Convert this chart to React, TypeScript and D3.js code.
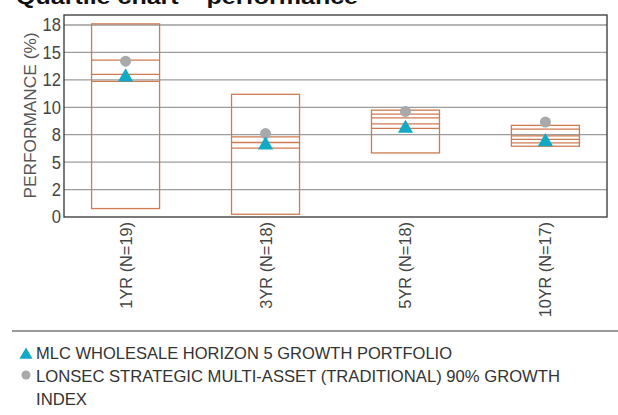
import React, { useEffect, useRef } from 'react';
import * as d3 from 'd3';

// periods on the x axis
const periods = ['1YR (N=19)', '3YR (N=18)', '5YR (N=18)', '10YR (N=17)'];

// box outline (top / bottom) and the inner quartile lines, in %
const boxHigh = [17.6, 11.18, 9.74, 8.35];
const boxLow = [0.77, 0.25, 5.84, 6.45];
const innerLines = [
  [14.3, 13.0, 12.36],
  [7.3, 6.79, 6.27],
  [9.38, 9.04, 8.49, 8.07],
  [8.0, 7.4, 7.07, 6.76],
];

// markers
const portfolio = [12.76, 6.55, 8.07, 6.85];
const benchmark = [14.2, 7.6, 9.62, 8.65];

const yTicks = [0, 2.5, 5, 7.5, 10, 12.5, 15, 17.5];
const yTickLabels = ['0', '2', '5', '8', '10', '12', '15', '18'];

const legendLabels = [
  'MLC WHOLESALE HORIZON 5 GROWTH PORTFOLIO',
  'LONSEC STRATEGIC MULTI-ASSET (TRADITIONAL) 90% GROWTH',
  'INDEX',
];
// measured widths of the legend lines in the original (condensed face)
const legendWidths = [416, 524, 51];

// the original uses a condensed face; squeeze a plain sans to roughly the same widths
const narrow = '"Liberation Sans Narrow", "Liberation Sans", Arial, sans-serif';
const orange = '#cf7a50';
const teal = '#10a9c6';
const grey = '#a7a9ab';

// width of a text in the condensed font, about 0.5em per glyph
function squeeze(s: string, size: number, k = 0.52) {
  return s.length * size * k;
}

export default function App() {
  const ref = useRef<SVGSVGElement | null>(null);

  useEffect(() => {
    const svg = d3.select(ref.current);
    svg.selectAll('*').remove();

    const margin = { top: 15, right: 11, bottom: 198, left: 64 };
    const W = 618, H = 415;
    const x0 = margin.left, x1 = W - margin.right;
    const y0 = H - margin.bottom, y1 = margin.top;

    const x = d3.scalePoint<string>().domain(periods).range([x0, x1]).padding(0.44);
    const y = d3.scaleLinear().domain([0, 18.41]).range([y0, y1]);
    const boxW = 68;

    // title, mostly cut off by the top edge
    svg.append('text')
      .attr('x', 16)
      .attr('y', 4)
      .attr('textLength', 342)
      .attr('lengthAdjust', 'spacingAndGlyphs')
      .style('font-family', '"Liberation Sans", Arial, sans-serif')
      .style('font-weight', 'bold')
      .style('font-size', '21px')
      .attr('fill', '#111')
      .text('Quartile chart \u2013 performance');

    // grid
    svg.append('g')
      .selectAll('line')
      .data(yTicks.slice(1))
      .join('line')
      .attr('x1', x0).attr('x2', x1)
      .attr('y1', d => y(d)).attr('y2', d => y(d))
      .attr('stroke', '#9c9c9c')
      .attr('stroke-width', 1.3);

    // y tick labels
    svg.append('g')
      .selectAll('text')
      .data(yTicks)
      .join('text')
      .attr('x', x0 - 3)
      .attr('y', d => y(d))
      .attr('dy', '0.36em')
      .attr('text-anchor', 'end')
      .attr('textLength', (d, i) => yTickLabels[i].length * 9.2)
      .attr('lengthAdjust', 'spacingAndGlyphs')
      .style('font-family', narrow)
      .style('font-size', '18px')
      .attr('fill', '#444')
      .text((d, i) => yTickLabels[i]);

    // y axis title
    svg.append('text')
      .attr('transform', 'translate(36,' + ((y0 + y1) / 2 - 0.5) + ') rotate(-90)')
      .attr('text-anchor', 'middle')
      .attr('textLength', 166)
      .attr('lengthAdjust', 'spacingAndGlyphs')
      .style('font-family', narrow)
      .style('font-size', '17px')
      .attr('fill', '#555')
      .text('PERFORMANCE (%)');

    // boxes
    const boxes = svg.append('g')
      .selectAll('g')
      .data(periods)
      .join('g');

    boxes.append('rect')
      .attr('x', d => x(d)! - boxW / 2)
      .attr('width', boxW)
      .attr('y', (d, i) => y(boxHigh[i]))
      .attr('height', (d, i) => y(boxLow[i]) - y(boxHigh[i]))
      .attr('fill', 'none')
      .attr('stroke', orange)
      .attr('stroke-width', 1.3);

    boxes.selectAll('line')
      .data((d, i) => innerLines[i].map(v => ({ p: d, v })))
      .join('line')
      .attr('x1', d => x(d.p)! - boxW / 2)
      .attr('x2', d => x(d.p)! + boxW / 2)
      .attr('y1', d => y(d.v))
      .attr('y2', d => y(d.v))
      .attr('stroke', orange)
      .attr('stroke-width', 1.3);

    // frame
    svg.append('rect')
      .attr('x', x0).attr('y', y1)
      .attr('width', x1 - x0).attr('height', y0 - y1)
      .attr('fill', 'none')
      .attr('stroke', '#333')
      .attr('stroke-width', 1.3);

    // benchmark circles
    svg.append('g')
      .selectAll('circle')
      .data(periods)
      .join('circle')
      .attr('cx', d => x(d)!)
      .attr('cy', (d, i) => y(benchmark[i]))
      .attr('r', 5.5)
      .attr('fill', grey);

    // portfolio triangles
    const tri = d3.symbol(d3.symbolTriangle, 100);
    svg.append('g')
      .selectAll('path')
      .data(periods)
      .join('path')
      .attr('d', tri)
      .attr('transform', (d, i) => 'translate(' + x(d) + ',' + y(portfolio[i]) + ')')
      .attr('fill', teal);

    // x labels
    svg.append('g')
      .selectAll('text')
      .data(periods)
      .join('text')
      .attr('transform', d => 'translate(' + (x(d)! + 6) + ',' + (y0 + 5) + ') rotate(-90)')
      .attr('text-anchor', 'end')
      .attr('textLength', d => squeeze(d, 17, 0.51))
      .attr('lengthAdjust', 'spacingAndGlyphs')
      .style('font-family', narrow)
      .style('font-size', '17px')
      .attr('fill', '#444')
      .text(d => d);

    // legend
    svg.append('line')
      .attr('x1', 12).attr('x2', W)
      .attr('y1', 331).attr('y2', 331)
      .attr('stroke', '#777')
      .attr('stroke-width', 1.3);

    const le = svg.append('g');
    le.append('path')
      .attr('d', d3.symbol(d3.symbolTriangle, 75)())
      .attr('transform', 'translate(26,355)')
      .attr('fill', teal);
    le.append('circle')
      .attr('cx', 26).attr('cy', 375)
      .attr('r', 4.5)
      .attr('fill', grey);
    le.selectAll('text')
      .data(legendLabels)
      .join('text')
      .attr('x', 36)
      .attr('y', (d, i) => 359 + i * 23)
      .attr('textLength', (d, i) => legendWidths[i])
      .attr('lengthAdjust', 'spacingAndGlyphs')
      .style('font-family', narrow)
      .style('font-size', '17px')
      .attr('fill', '#333')
      .text(d => d);
  }, []);

  return (
    <div style={{ position: 'absolute', left: 0, top: 0 }}>
      <svg ref={ref} width={618} height={415} style={{ display: 'block', background: '#fff' }} />
    </div>
  );
}
